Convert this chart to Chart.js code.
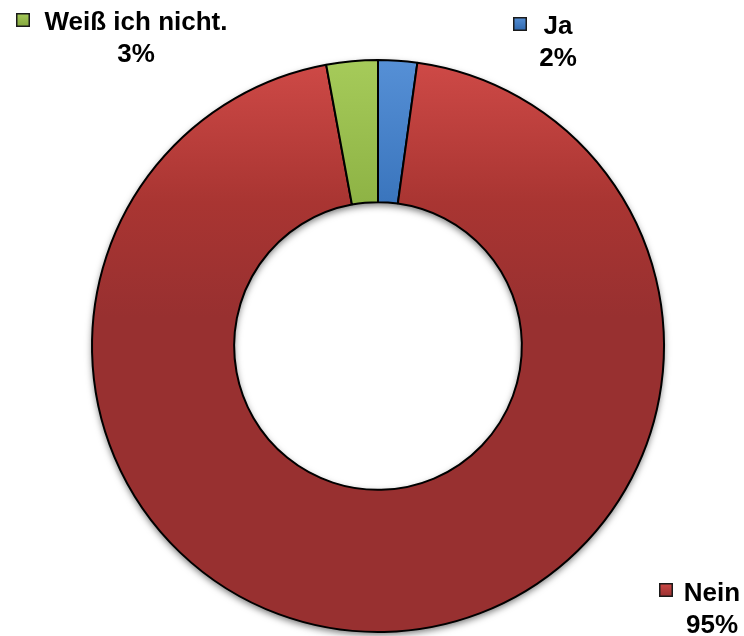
<!DOCTYPE html>
<html>
<head>
<meta charset="utf-8">
<script src="https://cdn.jsdelivr.net/npm/chart.js@4/dist/chart.umd.min.js"></script>
<style>
html,body{margin:0;padding:0;background:#fff;}
#wrap{width:744px;height:636px;position:relative;}
</style>
</head>
<body>
<div id="wrap"><canvas id="c" width="744" height="636"></canvas></div>
<script>
const categories = ["Ja", "Nein", "Weiß ich nicht."];
const values = [2.2, 94.9, 2.9];
const percentLabels = ["2%", "95%", "3%"];

const gradStops = [
  ["#5690d6", "#3a75bd", "#2e67ad"],
  ["#cf4a47", "#a93532", "#983030"],
  ["#a6cb5a", "#8eb345", "#83a53d"]
];
const labelPos = [
  {cx: 558, y: 34, mx: 513, my: 17},
  {cx: 712, y: 601, mx: 659, my: 583},
  {cx: 136, y: 30, mx: 16, my: 13}
];

function makeGrad(ctx, i, top, bottom) {
  const g = ctx.createLinearGradient(0, top, 0, bottom);
  g.addColorStop(0, gradStops[i][0]);
  g.addColorStop(0.25, gradStops[i][1]);
  g.addColorStop(0.45, gradStops[i][2]);
  g.addColorStop(1, gradStops[i][2]);
  return g;
}

const shadowPlugin = {
  id: 'shadow',
  beforeDatasetsDraw(chart) {
    const meta = chart.getDatasetMeta(0);
    if (!meta.data.length) return;
    const a = meta.data[0];
    const ctx = chart.ctx;
    ctx.save();
    ctx.shadowColor = 'rgba(0,0,0,0.55)';
    ctx.shadowBlur = 7;
    ctx.shadowOffsetY = 3;
    ctx.beginPath();
    ctx.arc(a.x, a.y, a.outerRadius, 0, Math.PI * 2);
    ctx.moveTo(a.x + a.innerRadius, a.y);
    ctx.arc(a.x, a.y, a.innerRadius, 0, Math.PI * 2, true);
    ctx.fillStyle = '#444';
    ctx.fill();
    ctx.restore();
  }
};

const labelPlugin = {
  id: 'labels',
  afterDraw(chart) {
    const ctx = chart.ctx;
    ctx.save();
    ctx.font = 'bold 26px "Liberation Sans", Arial, sans-serif';
    ctx.textAlign = 'center';
    ctx.textBaseline = 'alphabetic';
    categories.forEach((cat, i) => {
      const p = labelPos[i];
      ctx.fillStyle = '#000';
      ctx.fillText(cat, p.cx, p.y);
      ctx.fillText(percentLabels[i], p.cx, p.y + 32);
      const g = ctx.createLinearGradient(0, p.my, 0, p.my + 14);
      g.addColorStop(0, gradStops[i][0]);
      g.addColorStop(1, gradStops[i][2]);
      ctx.fillStyle = g;
      ctx.fillRect(p.mx, p.my, 14, 14);
      ctx.strokeStyle = '#1a1a1a';
      ctx.lineWidth = 1.5;
      ctx.strokeRect(p.mx + 0.75, p.my + 0.75, 12.5, 12.5);
    });
    ctx.restore();
  }
};

new Chart(document.getElementById('c'), {
  type: 'doughnut',
  data: {
    labels: categories,
    datasets: [{
      data: values,
      backgroundColor: (c) => {
        const a = c.chart.chartArea;
        if (!a) return gradStops[c.dataIndex][2];
        return makeGrad(c.chart.ctx, c.dataIndex, a.top, a.bottom);
      },
      borderColor: '#000',
      borderWidth: 2,
      hoverOffset: 0,
      clip: false
    }]
  },
  options: {
    responsive: false,
    animation: false,
    cutout: '50.3%',
    layout: {padding: {left: 91, right: 79, top: 59, bottom: 3}},
    plugins: {legend: {display: false}, tooltip: {enabled: false}},
    events: []
  },
  plugins: [shadowPlugin, labelPlugin]
});
</script>
</body>
</html>
